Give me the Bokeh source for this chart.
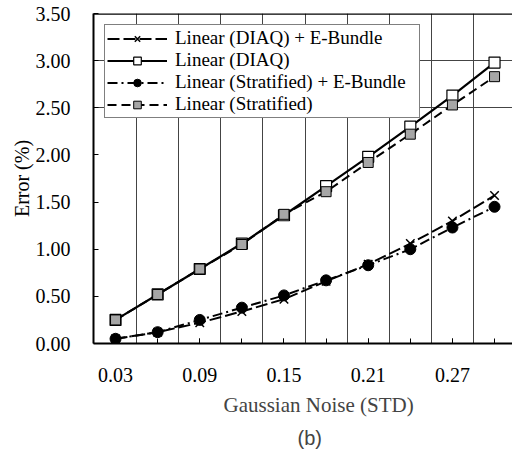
from bokeh.plotting import figure
from bokeh.models import (FixedTicker, Span, Title, Range1d, Legend, LegendItem,
                          NumeralTickFormatter)
from bokeh.embed import file_html
from bokeh.resources import INLINE

# ---- data ----
noise_std = [0.03, 0.06, 0.09, 0.12, 0.15, 0.18, 0.21, 0.24, 0.27, 0.30]
diaq_ebundle = [0.05, 0.12, 0.22, 0.34, 0.47, 0.66, 0.84, 1.06, 1.30, 1.57]
diaq = [0.25, 0.52, 0.79, 1.06, 1.36, 1.67, 1.98, 2.30, 2.63, 2.98]
strat_ebundle = [0.05, 0.12, 0.25, 0.38, 0.51, 0.67, 0.83, 1.00, 1.23, 1.45]
strat = [0.25, 0.52, 0.79, 1.05, 1.37, 1.61, 1.92, 2.22, 2.53, 2.83]
y_ticks = [0.0, 0.5, 1.0, 1.5, 2.0, 2.5, 3.0, 3.5]
labelled_x = noise_std[::2]

SERIF = "Liberation Serif"

p = figure(width=512, height=450, output_backend="svg", toolbar_location=None,
           x_range=Range1d(0.0143, 0.3128), y_range=Range1d(0, 3.5),
           min_border_left=93, min_border_right=0, min_border_top=13,
           min_border_bottom=0)
p.background_fill_color = "white"
p.border_fill_color = "white"
p.outline_line_color = None

# grid: vertical lines at category boundaries
bounds = [(a + b) / 2 for a, b in zip(noise_std[:-1], noise_std[1:])]
p.xgrid.ticker = FixedTicker(ticks=bounds)
p.xgrid.grid_line_color = "#444444"
p.xgrid.grid_line_width = 1
p.ygrid.ticker = FixedTicker(ticks=[2.5, 3.0])
p.ygrid.grid_line_color = "#444444"
p.ygrid.grid_line_width = 1

# axes
p.xaxis.ticker = FixedTicker(ticks=labelled_x, minor_ticks=noise_std)
p.xaxis.formatter = NumeralTickFormatter(format="0.00")
p.yaxis.ticker = FixedTicker(ticks=y_ticks)
p.yaxis.formatter = NumeralTickFormatter(format="0.00")
for ax in (p.xaxis[0], p.yaxis[0]):
    ax.axis_line_color = "black"
    ax.axis_line_width = 2
    ax.major_tick_in = 5
    ax.major_tick_out = 0
    ax.minor_tick_in = 5
    ax.minor_tick_out = 0
    ax.major_tick_line_color = "black"
    ax.minor_tick_line_color = "black"
    ax.major_label_text_font = SERIF
    ax.major_label_text_font_size = "20px"
    ax.major_label_text_color = "black"
    ax.axis_label_text_font = SERIF
    ax.axis_label_text_font_style = "normal"
    ax.axis_label_text_font_size = "20px"
    ax.axis_label_text_color = "black"
p.yaxis.minor_tick_line_color = None
p.yaxis.axis_label = "Error (%)"
p.xaxis.major_label_standoff = 24
p.yaxis.major_label_standoff = 23
p.yaxis.axis_label_standoff = 0

# top border
p.add_layout(Span(location=3.5, dimension="width", line_color="black", line_width=2.5))

# series (drawn in legend order)
l1 = p.line(noise_std, diaq_ebundle, line_color="black", line_width=2, line_dash="12 4")
m1 = p.scatter(noise_std, diaq_ebundle, marker="x", size=12, line_color="black", line_width=1.5)
l2 = p.line(noise_std, diaq, line_color="black", line_width=2.2)
m2 = p.scatter(noise_std, diaq, marker="square", size=11, line_color="black",
               fill_color="white", line_width=1.2)
l3 = p.line(noise_std, strat_ebundle, line_color="black", line_width=2, line_dash="10 4 2 4")
m3 = p.scatter(noise_std, strat_ebundle, marker="circle", size=11, line_color="black",
               fill_color="black")
l4 = p.line(noise_std, strat, line_color="black", line_width=2, line_dash="9 5")
m4 = p.scatter(noise_std, strat, marker="square", size=10, line_color="black",
               fill_color="#a6a6a6", line_width=1)

legend = Legend(items=[
    LegendItem(label="Linear (DIAQ) + E-Bundle", renderers=[l1, m1]),
    LegendItem(label="Linear (DIAQ)", renderers=[l2, m2]),
    LegendItem(label="Linear (Stratified) + E-Bundle", renderers=[l3, m3]),
    LegendItem(label="Linear (Stratified)", renderers=[l4, m4]),
], location="top_left")
legend.margin = 11
legend.padding = 2
legend.spacing = 0
legend.glyph_width = 60
legend.glyph_height = 19
legend.label_height = 19
legend.label_width = 242
legend.label_standoff = 8
legend.label_text_font = SERIF
legend.label_text_font_size = "19px"
legend.label_text_color = "black"
legend.border_line_color = "black"
legend.border_line_width = 1
legend.background_fill_color = "white"
legend.background_fill_alpha = 1
p.add_layout(legend)

xlab = Title(text="Gaussian Noise (STD)", align="left", offset=130, text_font=SERIF,
             text_font_size="21px", text_font_style="normal", standoff=12,
             vertical_align="bottom")
p.add_layout(xlab, "below")
cap = Title(text="(b)", align="left", offset=204, text_font="Liberation Sans",
            text_font_size="20px", text_font_style="normal", standoff=4,
            vertical_align="bottom")
p.add_layout(cap, "below")

open("out.html", "w").write(file_html(p, INLINE))
